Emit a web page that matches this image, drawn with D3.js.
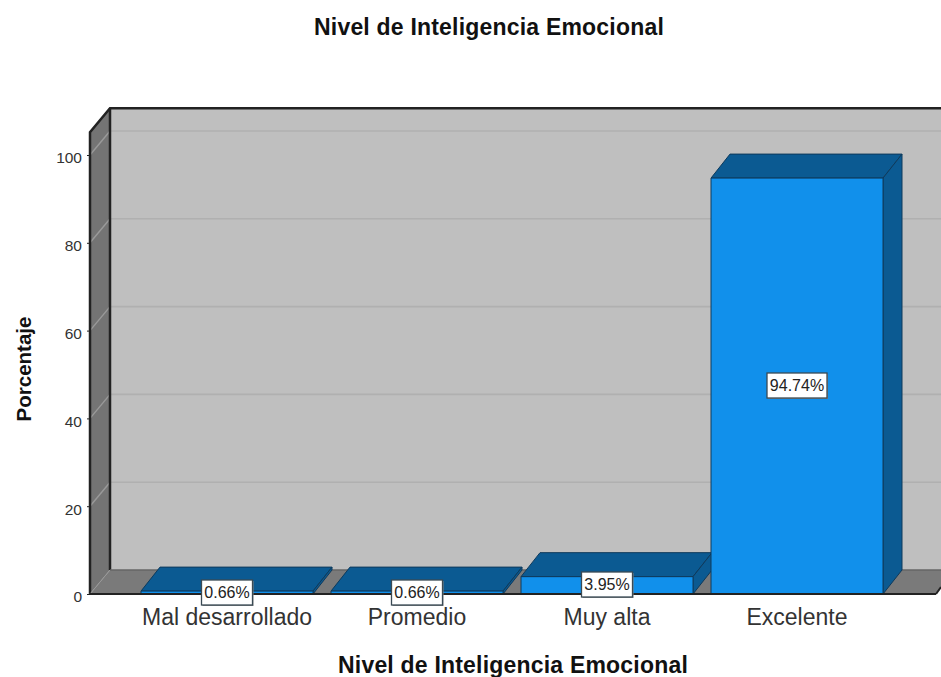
<!DOCTYPE html>
<html><head><meta charset="utf-8">
<script src="https://cdn.jsdelivr.net/npm/d3@7/dist/d3.min.js"></script>
<style>html,body{margin:0;padding:0;background:#fff}svg{display:block}text{font-family:"Liberation Sans",Arial,sans-serif}</style>
</head><body><svg id="c" width="941" height="677"></svg>
<script>
const categories = ["Mal desarrollado","Promedio","Muy alta","Excelente"];
const values = [0.66,0.66,3.95,94.74];
const labels = ["0.66%","0.66%","3.95%","94.74%"];
const yTicks = [0,20,40,60,80,100];
const chartTitle = "Nivel de Inteligencia Emocional";
const xTitle = "Nivel de Inteligencia Emocional";
const yTitle = "Porcentaje";

const svg = d3.select("#c");
const dx = 20, dy = 24, bdx = 19;
const y = d3.scaleLinear().domain([0,100]).range([594,155]);
const yMax = 105.2;
const x = d3.scaleBand().domain(categories).range([132,892]).paddingInner(18/190).paddingOuter(9/190);
const poly = (pts,fill,stroke,sw=1)=>svg.append("polygon").attr("points",pts.map(p=>p.join(",")).join(" ")).attr("fill",fill).attr("stroke",stroke||"none").attr("stroke-width",sw);
const x0=90, x1=960;
const wallTop = y(yMax);

poly([[x0+dx,wallTop-dy],[x1,wallTop-dy],[x1,y(0)-dy],[x0+dx,y(0)-dy]],"#bfbfbf");
poly([[x0,wallTop],[x0+dx,wallTop-dy],[x0+dx,y(0)-dy],[x0,y(0)]],"#747474");
poly([[x0,y(0)],[x0+dx,y(0)-dy],[x1,y(0)-dy],[x1-25,y(0)]],"#7a7a7a");
yTicks.filter(t=>t>0).forEach(t=>{
  svg.append("path").attr("d",`M${x0+dx},${y(t)-dy}H941`).attr("fill","none").attr("stroke","#b0b0b0").attr("stroke-width",1.6);
  svg.append("path").attr("d",`M${x0},${y(t)}L${x0+dx},${y(t)-dy}`).attr("fill","none").attr("stroke","#9a9a9a").attr("stroke-width",1.4);
});
const fr="#222";
svg.append("path").attr("d",`M${x0},${y(0)}V${wallTop}L${x0+dx},${wallTop-dy}H941`).attr("fill","none").attr("stroke",fr).attr("stroke-width",2.5);
svg.append("path").attr("d",`M${x0+dx},${wallTop-dy}V${y(0)-dy}`).attr("fill","none").attr("stroke",fr).attr("stroke-width",2.5);
svg.append("path").attr("d",`M${x0+dx},${y(0)-dy}H941`).attr("fill","none").attr("stroke","#666").attr("stroke-width",1.5);
svg.append("path").attr("d",`M${x0},${y(0)}L${x0+dx},${y(0)-dy}`).attr("fill","none").attr("stroke","#999").attr("stroke-width",1);
svg.append("path").attr("d",`M936,${y(0)}L941,${y(0)-7}`).attr("fill","none").attr("stroke",fr).attr("stroke-width",2);

const edge="#0e3a5c";
categories.forEach((c,i)=>{
  const l=x(c), w=x.bandwidth(), r=l+w, t=y(values[i]), b=y(0);
  poly([[l,t],[l+bdx,t-dy],[r+bdx,t-dy],[r,t]],"#0b5a92",edge);
  poly([[r,t],[r+bdx,t-dy],[r+bdx,b-dy],[r,b]],"#0b5a92",edge);
  poly([[l,t],[r,t],[r,b],[l,b]],"#1190eb",edge);
});
svg.append("path").attr("d",`M${x0},${y(0)}H936`).attr("fill","none").attr("stroke",fr).attr("stroke-width",2);

categories.forEach((c,i)=>{
  const cx=x(c)+x.bandwidth()/2;
  const cy= i===3 ? 385.5 : (i===2 ? 584.5 : 592.5);
  const w = labels[i].length>5 ? 60 : 51, h = 25;
  const g=svg.append("g");
  g.append("rect").attr("x",cx-w/2+1).attr("y",cy-h/2+1).attr("width",w).attr("height",h).attr("fill","#888");
  g.append("rect").attr("x",cx-w/2).attr("y",cy-h/2).attr("width",w).attr("height",h).attr("fill","#fff").attr("stroke","#3a4a55").attr("stroke-width",1.3);
  g.append("text").attr("x",cx).attr("y",cy+5.5).attr("text-anchor","middle").attr("font-size",16).attr("fill","#222").text(labels[i]);
});

const yAxis = d3.axisLeft(y).tickValues(yTicks).tickSize(0).tickPadding(8);
const ga = svg.append("g").attr("transform",`translate(${x0},0)`).call(yAxis);
ga.select(".domain").remove();
ga.selectAll("text").attr("font-size",15.5).attr("fill","#333").attr("dy","0.32em").attr("y",3).style("font-family",'"Liberation Sans",Arial,sans-serif');
ga.selectAll(".tick").append("line").attr("x1",-3).attr("x2",0).attr("stroke","#222");

categories.forEach(c=>{
  svg.append("text").attr("x",x(c)+x.bandwidth()/2).attr("y",625).attr("text-anchor","middle").attr("font-size",23).attr("fill","#333").text(c);
});
const titleSpacing = "0.2px";
svg.append("text").attr("x",489).attr("y",35).attr("text-anchor","middle").attr("font-size",23).attr("font-weight","bold").attr("letter-spacing",titleSpacing).attr("fill","#111").text(chartTitle);
svg.append("text").attr("x",513).attr("y",673).attr("text-anchor","middle").attr("font-size",23).attr("font-weight","bold").attr("letter-spacing",titleSpacing).attr("fill","#111").text(xTitle);
svg.append("text").attr("transform","translate(31,369) rotate(-90)").attr("text-anchor","middle").attr("font-size",20.5).attr("font-weight","bold").attr("fill","#111").text(yTitle);
</script></body></html>
